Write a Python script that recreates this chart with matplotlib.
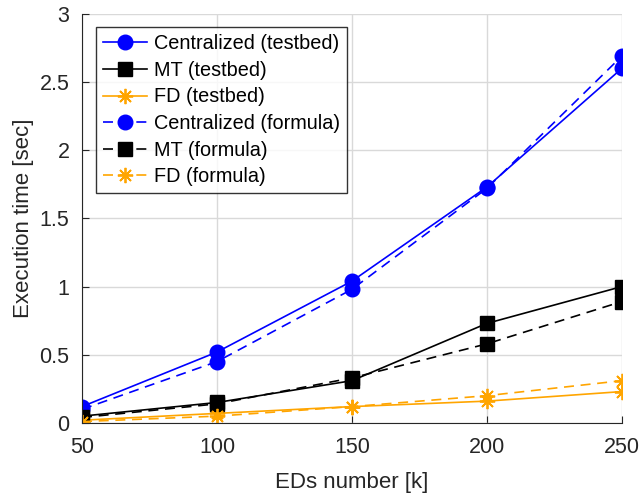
import numpy as np
import matplotlib.pyplot as plt

plt.rcParams['font.family'] = ['Liberation Sans', 'DejaVu Sans']

eds = [50, 100, 150, 200, 250]
cent_testbed = [0.12, 0.52, 1.04, 1.73, 2.60]
mt_testbed = [0.05, 0.15, 0.31, 0.73, 1.00]
fd_testbed = [0.02, 0.07, 0.12, 0.16, 0.23]
cent_formula = [0.10, 0.45, 0.98, 1.72, 2.69]
mt_formula = [0.04, 0.14, 0.33, 0.58, 0.89]
fd_formula = [0.01, 0.05, 0.12, 0.20, 0.31]

orange = '#FFA500'
star = (8, 2, 0)

fig = plt.figure(figsize=(6.41, 4.97), dpi=100)
ax = fig.add_axes([0.128, 0.149, 0.842, 0.823])

ax.plot(eds, cent_testbed, '-', marker='o', color='blue', ms=10.5, lw=1.2, label='Centralized (testbed)')
ax.plot(eds, mt_testbed, '-', marker='s', color='black', ms=10, lw=1.2, label='MT (testbed)')
ax.plot(eds, fd_testbed, '-', marker=star, color=orange, ms=11, mew=1.3, lw=1.2, label='FD (testbed)')
ax.plot(eds, cent_formula, '--', marker='o', color='blue', ms=10.5, lw=1.2, dashes=(6, 4), label='Centralized (formula)')
ax.plot(eds, mt_formula, '--', marker='s', color='black', ms=10, lw=1.2, dashes=(6, 4), label='MT (formula)')
ax.plot(eds, fd_formula, '--', marker=star, color=orange, ms=11, mew=1.3, lw=1.2, dashes=(6, 4), label='FD (formula)')

ax.set_xlim(50, 250)
ax.set_ylim(0, 3)
ax.set_xticks([50, 100, 150, 200, 250])
ax.set_yticks([0, 0.5, 1, 1.5, 2, 2.5, 3])
ax.set_yticklabels(['0', '0.5', '1', '1.5', '2', '2.5', '3'])
ax.grid(True, color='#d9d9d9', lw=1)
ax.set_axisbelow(True)
for s in ['top', 'right']:
    ax.spines[s].set_visible(False)
for s in ['left', 'bottom']:
    ax.spines[s].set_color('#262626')
ax.tick_params(direction='in', labelsize=15.5, colors='#262626', length=5)
ax.tick_params(axis='x', pad=10)
ax.tick_params(axis='y', pad=9)
ax.set_xlabel('EDs number [k]', fontsize=16, color='#262626', labelpad=10)
ax.set_ylabel('Execution time [sec]', fontsize=16, color='#262626', labelpad=4)

leg = ax.legend(loc='upper left', fontsize=14.3, frameon=True, fancybox=False,
                edgecolor='black', handlelength=2.2, borderpad=0.35,
                labelspacing=0.38, handletextpad=0.35, borderaxespad=0,
                bbox_to_anchor=(0.026, 0.967))
leg.get_frame().set_linewidth(1)

fig.savefig('out.png', dpi=100)
